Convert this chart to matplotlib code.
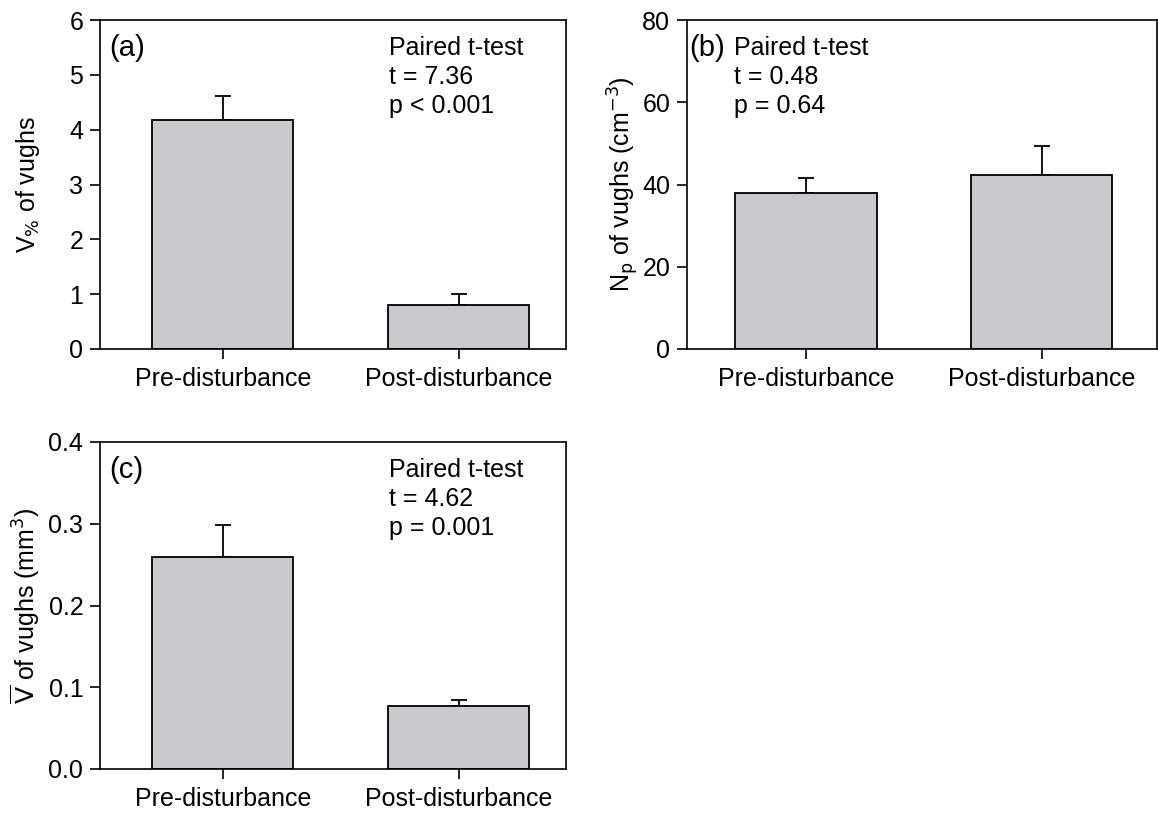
import matplotlib
matplotlib.use("Agg")
import matplotlib.pyplot as plt

plt.rcParams['font.family'] = ['Liberation Sans', 'DejaVu Sans']

categories = ["Pre-disturbance", "Post-disturbance"]
vpct_mean = [4.17, 0.80]
vpct_err = [0.45, 0.20]
np_mean = [38.0, 42.2]
np_err = [3.6, 7.1]
vbar_mean = [0.259, 0.077]
vbar_err = [0.040, 0.007]

bar_color = "#c8c9cc"
fig = plt.figure(figsize=(11.58, 8.16), dpi=100)
W, H = 1158, 816

def add_ax(l, t, r, b):
    return fig.add_axes([l / W, 1 - b / H, (r - l) / W, (b - t) / H])

axA = add_ax(100, 20, 566, 349)
axB = add_ax(687, 20, 1157, 349)
axC = add_ax(100, 442, 566, 769)

FS = 18

def draw(ax, means, errs, ylim, yticks, yticklabels, ylabel, xlim, labx):
    x = list(range(len(categories)))
    ax.bar(x, means, width=0.6, color=bar_color, edgecolor="black", linewidth=1.3, zorder=2)
    ax.errorbar(x, means, yerr=[[0, 0], errs], fmt="none", ecolor="black",
                elinewidth=1.3, capsize=6, capthick=1.3, zorder=1)
    ax.set_xlim(*xlim)
    ax.set_ylim(*ylim)
    ax.set_yticks(yticks)
    ax.set_yticklabels(yticklabels)
    ax.set_xticks(x)
    ax.set_xticklabels(categories)
    ax.tick_params(axis="both", direction="out", length=7, width=1.2, labelsize=FS)
    ax.tick_params(axis="x", pad=6)
    ax.tick_params(axis="y", pad=5)
    for s in ax.spines.values():
        s.set_linewidth(1.2)
    ax.set_ylabel(ylabel, fontsize=FS)
    ax.yaxis.set_label_coords(labx, 0.5)

draw(axA, vpct_mean, vpct_err, (0, 6), [0, 1, 2, 3, 4, 5, 6],
     ["0", "1", "2", "3", "4", "5", "6"], r"V$_{\%}$ of vughs", (-0.52, 1.455), -0.125)
axA.text(0.02, 0.958, "(a)", transform=axA.transAxes, fontsize=21, va="top", ha="left")
axA.text(0.62, 0.952, "Paired t-test\nt = 7.36\np < 0.001", transform=axA.transAxes,
         fontsize=FS, va="top", ha="left", linespacing=1.27)

draw(axB, np_mean, np_err, (0, 80), [0, 20, 40, 60, 80],
     ["0", "20", "40", "60", "80"], r"N$_{\rm p}$ of vughs (cm$^{-3}$)", (-0.505, 1.49), -0.098)
axB.text(0.005, 0.958, "(b)", transform=axB.transAxes, fontsize=21, va="top", ha="left")
axB.text(0.1, 0.952, "Paired t-test\nt = 0.48\np = 0.64", transform=axB.transAxes,
         fontsize=FS, va="top", ha="left", linespacing=1.27)

draw(axC, vbar_mean, vbar_err, (0, 0.4), [0.0, 0.1, 0.2, 0.3, 0.4],
     ["0.0", "0.1", "0.2", "0.3", "0.4"], r"$\overline{\rm V}$ of vughs (mm$^{3}$)", (-0.52, 1.455), -0.125)
axC.text(0.02, 0.958, "(c)", transform=axC.transAxes, fontsize=21, va="top", ha="left")
axC.text(0.62, 0.952, "Paired t-test\nt = 4.62\np = 0.001", transform=axC.transAxes,
         fontsize=FS, va="top", ha="left", linespacing=1.27)

fig.savefig("out.png", dpi=100)
